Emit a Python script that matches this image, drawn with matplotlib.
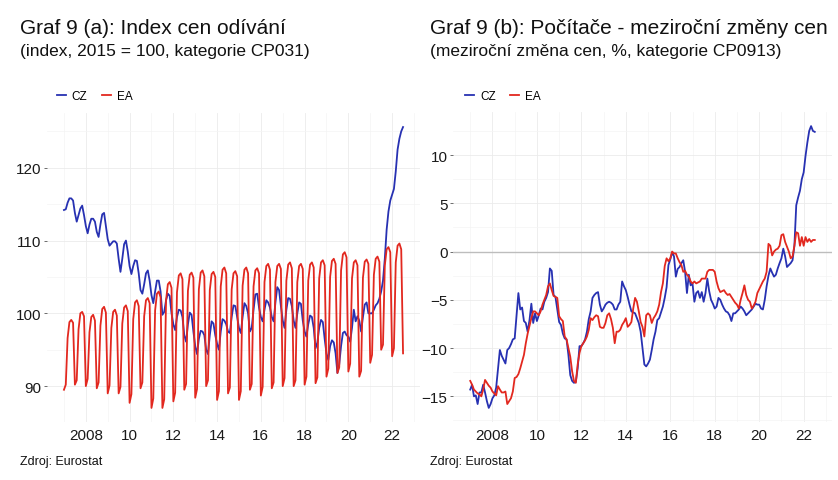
import numpy as np
import matplotlib
matplotlib.use("Agg")
import matplotlib.pyplot as plt
from matplotlib.ticker import FixedLocator

plt.rcParams['font.family'] = ['Liberation Sans', 'DejaVu Sans']

# monthly data, Jan 2007 - Jul 2022
start_year = 2007
n_months = 187

# Graf 9 (a): index cen odivani (2015 = 100)
cz_index = [
    114.2, 114.3, 115.2, 115.8, 115.8, 115.5, 113.8, 112.6, 113.5, 114.4, 114.8, 113.5,  # 2007
    112.0, 111.0, 112.2, 113.0, 113.0, 112.6, 111.2, 110.5, 112.2, 113.6, 113.8, 112.0,  # 2008
    110.2, 109.3, 109.6, 109.9, 109.9, 109.6, 107.5, 105.7, 107.5, 109.5, 110.0, 108.5,  # 2009
    106.5, 105.4, 106.5, 107.3, 107.2, 105.5, 103.2, 102.7, 104.0, 105.5, 105.9, 104.5,  # 2010
    102.5, 101.4, 103.0, 104.5, 104.5, 103.0, 99.8, 100.2, 101.8, 102.7, 102.4, 100.0,   # 2011
    98.5, 97.7, 99.5, 100.5, 100.4, 99.5, 97.0, 96.1, 98.5, 100.1, 99.8, 97.5,           # 2012
    95.5, 94.4, 96.5, 97.6, 97.5, 97.0, 95.0, 94.4, 97.0, 98.9, 98.6, 97.0,              # 2013
    95.8, 95.0, 97.5, 99.2, 99.0, 98.5, 97.5, 97.3, 99.5, 101.1, 101.0, 99.5,            # 2014
    98.0, 97.3, 99.5, 101.4, 101.0, 100.0, 97.5, 98.0, 100.5, 102.6, 102.7, 100.8,       # 2015
    99.5, 98.9, 100.5, 101.8, 101.5, 100.8, 99.5, 98.9, 101.5, 103.6, 103.2, 101.0,      # 2016
    99.0, 98.0, 100.5, 102.1, 102.0, 101.0, 99.0, 98.0, 100.0, 101.5, 101.3, 99.0,       # 2017
    97.5, 96.8, 98.5, 99.7, 99.5, 98.0, 95.2, 96.0, 98.0, 99.1, 98.8, 96.5,              # 2018
    94.5, 93.6, 95.5, 96.3, 96.0, 94.5, 91.8, 93.0, 95.5, 97.3, 97.5, 97.0,              # 2019
    96.8, 96.1, 98.0, 100.5, 98.9, 99.6, 99.0, 97.5, 99.5, 101.2, 101.5, 100.0,          # 2020
    100.0, 100.0, 100.5, 101.1, 101.4, 102.0, 103.0, 104.5, 107.5, 111.5, 114.0, 115.5,  # 2021
    116.3, 117.1, 119.5, 122.5, 124.0, 125.0, 125.6,                                     # 2022
]
ea_index = [
    89.5, 90.2, 96.6, 98.8, 99.1, 98.7, 90.2, 90.8, 97.8, 100.0, 100.2, 99.6,     # 2007
    90.0, 91.0, 97.4, 99.5, 99.8, 99.0, 89.7, 90.5, 98.3, 100.6, 100.9, 100.1,    # 2008
    89.0, 90.1, 98.0, 100.2, 100.5, 99.7, 89.0, 89.9, 98.6, 100.8, 101.1, 100.3,  # 2009
    87.7, 88.9, 99.2, 101.5, 101.8, 101.0, 89.7, 90.5, 99.6, 101.8, 102.1, 101.4, # 2010
    87.0, 88.3, 100.4, 102.7, 103.0, 102.2, 87.0, 88.2, 101.8, 104.0, 104.3, 103.5,  # 2011
    87.9, 89.1, 102.9, 105.2, 105.5, 104.7, 89.5, 90.3, 103.1, 105.3, 105.6, 104.9,  # 2012
    88.4, 89.6, 103.3, 105.6, 105.9, 105.1, 90.0, 90.8, 103.2, 105.4, 105.7, 105.0,  # 2013
    88.1, 89.3, 103.7, 106.0, 106.3, 105.5, 89.0, 89.8, 103.3, 105.5, 105.8, 105.1,  # 2014
    88.1, 89.3, 103.8, 106.0, 106.3, 105.5, 89.5, 90.3, 103.7, 105.9, 106.2, 105.5,  # 2015
    88.7, 89.9, 104.3, 106.5, 106.8, 106.0, 89.7, 90.5, 104.3, 106.5, 106.8, 106.1,  # 2016
    90.0, 91.1, 104.5, 106.7, 107.0, 106.2, 90.0, 90.8, 104.3, 106.5, 106.8, 106.1,  # 2017
    90.2, 91.3, 104.5, 106.7, 107.0, 106.3, 90.4, 91.2, 104.8, 107.0, 107.3, 106.6,  # 2018
    91.3, 92.4, 105.0, 107.2, 107.5, 106.8, 91.8, 92.6, 105.9, 108.1, 108.4, 107.7,  # 2019
    92.0, 93.1, 104.8, 107.0, 107.3, 106.6, 91.3, 92.1, 104.9, 107.1, 107.4, 106.8,  # 2020
    93.2, 94.3, 105.3, 107.5, 107.8, 107.1, 95.0, 95.7, 106.6, 108.8, 109.1, 108.4,  # 2021
    94.1, 95.2, 107.0, 109.3, 109.6, 108.8, 94.5,                                    # 2022
]

# Graf 9 (b): pocitace, mezirocni zmena cen (%)
cz_yoy = [
    -14.3, -13.8, -15.0, -14.9, -15.8, -14.6, -14.6, -13.8, -14.6, -15.5, -16.2, -15.8,  # 2007
    -15.2, -14.9, -14.1, -12.1, -10.2, -10.8, -11.2, -11.6, -10.2, -10.0, -9.6, -9.1,    # 2008
    -9.0, -6.7, -4.3, -6.0, -5.8, -7.2, -7.4, -8.3, -7.1, -5.4, -7.4, -6.4,              # 2009
    -7.2, -6.6, -5.9, -6.0, -5.2, -4.8, -4.2, -1.75, -2.0, -4.5, -4.7, -6.0,             # 2010
    -7.3, -7.6, -8.5, -9.0, -9.1, -10.7, -12.8, -13.4, -13.6, -13.5, -12.1, -9.8,        # 2011
    -9.8, -9.5, -9.1, -8.3, -7.0, -6.2, -4.8, -4.5, -4.3, -4.2, -5.5, -6.2,              # 2012
    -5.9, -5.5, -5.3, -5.2, -5.3, -5.5, -6.0, -6.0, -5.5, -5.2, -3.1, -3.6,              # 2013
    -4.0, -4.7, -5.5, -6.2, -6.3, -6.4, -6.9, -7.4, -8.3, -10.0, -11.7, -11.9,           # 2014
    -11.6, -11.2, -10.2, -9.1, -8.3, -7.1, -6.9, -6.3, -5.7, -4.8, -3.7, -1.4,           # 2015
    -0.8, -0.1, -0.5, -2.6, -1.8, -1.6, -1.2, -0.9, -2.1, -4.3, -2.4, -3.5,              # 2016
    -3.3, -5.2, -4.3, -4.1, -4.8, -4.2, -5.2, -4.3, -2.8, -4.1, -5.0, -5.4,              # 2017
    -5.9, -5.7, -4.8, -5.0, -5.5, -5.9, -6.2, -6.3, -6.6, -7.2, -6.4, -6.4,              # 2018
    -6.2, -6.0, -5.7, -5.9, -6.2, -6.6, -6.4, -6.2, -6.0, -5.7, -5.4, -5.5,              # 2019
    -5.5, -5.9, -6.0, -5.0, -3.6, -2.5, -1.75, -2.2, -2.6, -2.4, -1.75, -1.2,            # 2020
    -0.7, 0.3, -0.5, -1.6, -1.4, -1.2, -0.9, 0.6, 4.8, 5.6, 6.3, 7.5,                    # 2021
    8.2, 9.9, 11.3, 12.5, 13.0, 12.5, 12.4,                                              # 2022
]
ea_yoy = [
    -13.4, -13.8, -14.3, -14.5, -14.7, -14.8, -15.0, -14.3, -13.3, -13.6, -13.9, -14.1,  # 2007
    -14.5, -14.7, -14.9, -13.95, -14.3, -14.6, -14.6, -14.5, -15.8, -15.5, -15.2, -14.5, # 2008
    -13.1, -13.0, -12.7, -12.1, -11.4, -10.7, -9.5, -8.5, -7.7, -6.9, -6.2, -6.2,        # 2009
    -6.4, -6.6, -6.2, -5.5, -5.0, -4.5, -3.6, -3.3, -4.0, -4.6, -4.7, -4.8,              # 2010
    -6.7, -7.0, -7.2, -8.8, -9.1, -10.0, -10.9, -12.4, -13.4, -13.6, -11.7, -10.5,       # 2011
    -9.8, -9.5, -9.2, -8.8, -8.1, -6.9, -7.1, -6.8, -6.6, -6.7, -7.8, -7.9,              # 2012
    -7.9, -7.4, -6.6, -6.4, -7.0, -7.9, -9.5, -8.3, -8.3, -8.1, -7.6, -7.3,              # 2013
    -6.9, -7.8, -7.6, -7.3, -5.9, -4.8, -5.2, -6.2, -7.3, -7.8, -8.8, -6.6,              # 2014
    -6.4, -6.6, -7.4, -6.9, -6.6, -6.2, -5.5, -4.2, -3.3, -1.5, -0.7, -1.0,              # 2015
    -0.7, 0.0, -0.2, -0.2, -0.7, -1.1, -1.4, -2.1, -2.0, -2.4, -2.6, -3.1,               # 2016
    -3.3, -3.1, -3.3, -3.2, -3.1, -2.8, -2.8, -2.8, -2.1, -1.9, -1.9, -1.9,              # 2017
    -2.1, -3.1, -3.8, -4.2, -4.1, -4.0, -4.3, -4.5, -4.4, -4.7, -5.0, -5.3,              # 2018
    -5.5, -5.9, -5.0, -4.3, -3.5, -4.5, -5.0, -5.2, -5.9, -5.6, -5.2, -4.3,              # 2019
    -3.9, -3.5, -3.1, -2.8, -2.1, 0.8, 0.6, -0.4, 0.0, 0.2, 0.3, 0.6,                    # 2020
    1.7, 1.8, 1.0, 0.5, 0.0, -0.7, -0.5, 0.6, 2.0, 1.9, 0.6, 1.5,                        # 2021
    0.6, 1.5, 1.0, 1.3, 1.0, 1.2, 1.2,                                                   # 2022
]

series_names = ["CZ", "EA"]
series_colors = ["#2731b2", "#e2281f"]
year_ticks = [2008, 2010, 2012, 2014, 2016, 2018, 2020, 2022]
year_labels = ["2008", "10", "12", "14", "16", "18", "20", "22"]

t = start_year + np.arange(n_months) / 12.0

W, H = 838, 481
fig = plt.figure(figsize=(W / 100, H / 100), dpi=100)


def px_axes(left, top, right, bottom):
    return fig.add_axes([left / W, 1 - bottom / H, (right - left) / W, (bottom - top) / H])


def style_axes(ax, yticks, yminor):
    for s in ax.spines.values():
        s.set_visible(False)
    ax.xaxis.set_major_locator(FixedLocator(year_ticks))
    ax.set_xticklabels(year_labels)
    ax.xaxis.set_minor_locator(FixedLocator(list(range(2005, 2025, 2))))
    ax.yaxis.set_major_locator(FixedLocator(yticks))
    ax.yaxis.set_minor_locator(FixedLocator(yminor))
    ax.grid(which="major", color="#ebebeb", lw=0.6)
    ax.grid(which="minor", color="#f4f4f4", lw=0.5)
    ax.set_axisbelow(True)
    ax.tick_params(axis="x", which="both", length=0, pad=4, labelsize=11, labelcolor="#1a1a1a")
    ax.tick_params(axis="y", which="major", length=2.5, width=0.6, color="#555555", pad=1.5,
                   labelsize=11, labelcolor="#1a1a1a")
    ax.tick_params(axis="y", which="minor", length=0)
    ax.margins(x=0.05, y=0.05)


def header(x, title, subtitle):
    fig.text(x / W, 1 - 34 / H, title, fontsize=15, color="#111111", va="baseline")
    fig.text(x / W, 1 - 56 / H, subtitle, fontsize=12.5, color="#111111", va="baseline")
    fig.text(x / W, 1 - 465 / H, "Zdroj: Eurostat", fontsize=9, color="#111111", va="baseline")


def legend(ax, xanchor, yanchor):
    ax.legend(loc="center left", bbox_to_anchor=(xanchor, yanchor), ncol=2, frameon=False,
              fontsize=8.5, handlelength=0.75, handletextpad=0.5, columnspacing=1.2,
              borderaxespad=0, borderpad=0)


# panel (a)
ax1 = px_axes(47, 114, 420, 423)
for vals, name, col in zip([cz_index, ea_index], series_names, series_colors):
    ax1.plot(t, vals, color=col, lw=1.3, label=name)
style_axes(ax1, [90, 100, 110, 120], [85, 95, 105, 115, 125])
legend(ax1, 0.027, 1.056)
header(20, "Graf 9 (a): Index cen odívání", "(index, 2015 = 100, kategorie CP031)")

# panel (b)
ax2 = px_axes(453, 113, 832, 423)
ax2.axhline(0, color="#bdbdbd", lw=1.0, zorder=1)
for vals, name, col in zip([cz_yoy, ea_yoy], series_names, series_colors):
    ax2.plot(t, vals, color=col, lw=1.3, label=name, zorder=3)
style_axes(ax2, [-15, -10, -5, 0, 5, 10], [-17.5, -12.5, -7.5, -2.5, 2.5, 7.5, 12.5])
legend(ax2, 0.032, 1.052)
header(430, "Graf 9 (b): Počítače - meziroční změny cen", "(meziroční změna cen, %, kategorie CP0913)")

fig.savefig("out.png", dpi=100)
